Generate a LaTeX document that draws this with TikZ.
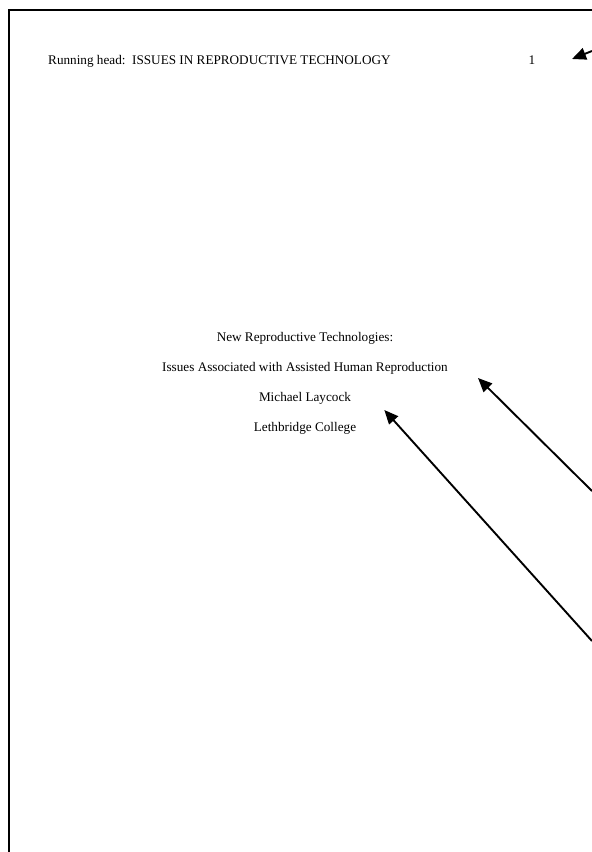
\documentclass[tikz,border=0pt]{standalone}
\usepackage{fontspec}
\setmainfont{Liberation Serif}
\usetikzlibrary{arrows.meta, positioning}

\begin{document}
\begin{tikzpicture}[x=1pt, y=-1pt, font=\fontsize{13.2}{16}\selectfont,
    every node/.style={inner sep=0pt, anchor=base},
    pointer/.style={-{Triangle[length=14pt, width=12pt]}, line width=1.9pt}]
    \useasboundingbox (0,0) rectangle (592,852);
    \fill [white] (0,0) rectangle (592,852);
    % page edge
    \draw [line width=2pt] (592,10) -- (9,10) -- (9,852);

    \node (head) [anchor=base west] at (48,64) {Running head:\ \ ISSUES IN REPRODUCTIVE TECHNOLOGY};
    \node (pagenum) at (532,64) {1};

    \node (title1) at (305,341) {New Reproductive Technologies:};
    \node (title2) [below=30pt of title1.base, anchor=base] {Issues Associated with Assisted Human Reproduction};
    \node (author) [below=30pt of title2.base, anchor=base] {Michael Laycock};
    \node (college) [below=30pt of author.base, anchor=base] {Lethbridge College};

    \coordinate (edge1) at (592,51);
    \coordinate (edge2) at (592,491);
    \coordinate (edge3) at (592,641);

    \draw [pointer] (edge1) -- ([xshift=40pt, yshift=5pt]pagenum.base);
    \draw [pointer] (edge2) -- ([xshift=30pt, yshift=-7pt]title2.base east);
    \draw [pointer] (edge3) -- ([xshift=28pt, yshift=21pt]college.base east);
\end{tikzpicture}
\end{document}
